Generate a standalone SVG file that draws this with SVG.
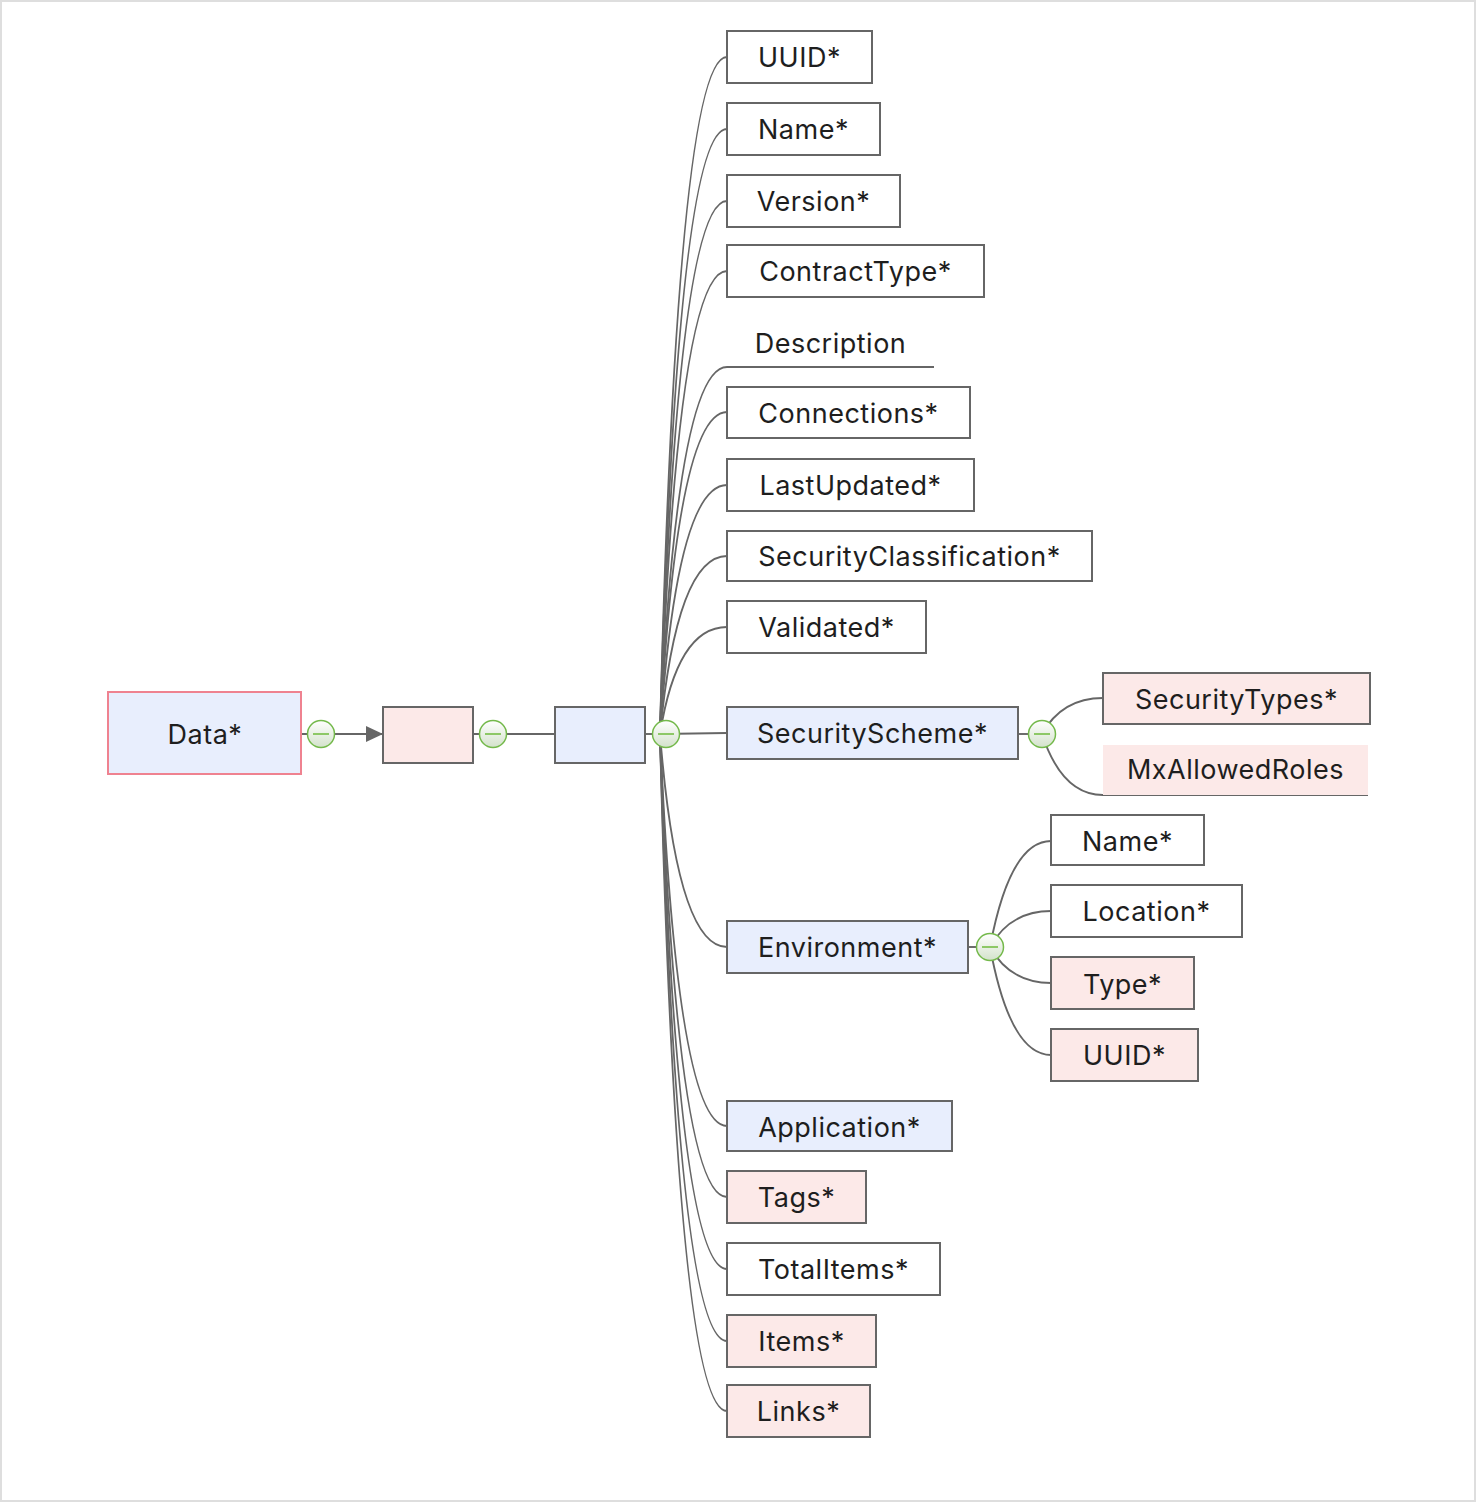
<svg xmlns="http://www.w3.org/2000/svg" width="1476" height="1502" viewBox="0 0 1476 1502">
  <defs>
    <linearGradient id="knobFill" x1="0" y1="0" x2="0" y2="1">
      <stop offset="0" stop-color="#ffffff"/>
      <stop offset="1" stop-color="#d3e2cb"/>
    </linearGradient>
    <marker id="arrow" viewBox="0 0 17 16" refX="17" refY="8" markerWidth="17" markerHeight="16" markerUnits="userSpaceOnUse" orient="auto">
      <path d="M0,0 L17,8 L0,16 Z" fill="#666666"/>
    </marker>
    <g id="knob">
      <circle r="13.5" fill="url(#knobFill)" stroke="#74b94b" stroke-width="1.5"/>
      <line x1="-8" y1="0" x2="8" y2="0" stroke="#8dc866" stroke-width="2"/>
    </g>
  </defs>
  <style>
    .frame { fill: #ffffff; stroke: #dedede; stroke-width: 2; }
    .box { stroke: #666666; stroke-width: 2; }
    .plain { fill: #ffffff; }
    .blue { fill: #e8eefd; }
    .pink { fill: #fce9e8; }
    .root { fill: #e8eefd; stroke: #ef8290; stroke-width: 2; }
    .label { font-family: Inter, "Liberation Sans", sans-serif; font-size: 27px; letter-spacing: 0.5px; fill: #1e1e1e; text-anchor: middle; }
    .wire { fill: none; stroke: #666666; stroke-width: 1.9; }
  </style>

  <rect class="frame" x="1" y="1" width="1474" height="1500"/>

  <!-- connectors -->
  <g id="connectors">
    <path class="wire" d="M301,734 L383,734" marker-end="url(#arrow)"/>
    <path class="wire" d="M473,734 L555,734"/>
    <path class="wire" d="M645,734 L660,734"/>
    <!-- fan from the main hub -->
    <path class="wire" d="M660,734 Q677,57 727,57"/>
    <path class="wire" d="M660,734 Q677,129 727,129"/>
    <path class="wire" d="M660,734 Q677,201 727,201"/>
    <path class="wire" d="M660,734 Q677,271 727,271"/>
    <path class="wire" d="M660,734 Q677,367 727,367 L934,367"/>
    <path class="wire" d="M660,734 Q677,412 727,412"/>
    <path class="wire" d="M660,734 Q677,485 727,485"/>
    <path class="wire" d="M660,734 Q677,556 727,556"/>
    <path class="wire" d="M660,734 Q677,627 727,627"/>
    <path class="wire" d="M660,734 L727,733"/>
    <path class="wire" d="M660,734 Q677,947 727,947"/>
    <path class="wire" d="M660,734 Q677,1126 727,1126"/>
    <path class="wire" d="M660,734 Q677,1197 727,1197"/>
    <path class="wire" d="M660,734 Q677,1269 727,1269"/>
    <path class="wire" d="M660,734 Q677,1341 727,1341"/>
    <path class="wire" d="M660,734 Q677,1411 727,1411"/>
    <!-- SecurityScheme branch -->
    <path class="wire" d="M1018,734 L1042,734"/>
    <path class="wire" d="M1042,734 Q1062,698 1103,698"/>
    <path class="wire" d="M1042,734 Q1062,795 1103,795 L1368,795"/>
    <!-- Environment branch -->
    <path class="wire" d="M968,947 L990,947"/>
    <path class="wire" d="M990,947 Q1010,841 1051,841"/>
    <path class="wire" d="M990,947 Q1010,911 1051,911"/>
    <path class="wire" d="M990,947 Q1010,983 1051,983"/>
    <path class="wire" d="M990,947 Q1010,1055 1051,1055"/>
  </g>

  <!-- collapse knobs -->
  <g id="knobs">
    <use href="#knob" x="321" y="734"/>
    <use href="#knob" x="493" y="734"/>
    <use href="#knob" x="666" y="734"/>
    <use href="#knob" x="1042" y="734"/>
    <use href="#knob" x="990" y="947"/>
  </g>

  <g id="node-data">
    <rect class="root" x="108" y="692" width="193" height="82"/>
    <text class="label" x="205" y="744">Data*</text>
  </g>
  <g id="node-anon-pink">
    <rect class="box pink" x="383" y="707" width="90" height="56"/>
  </g>
  <g id="node-anon-blue">
    <rect class="box blue" x="555" y="707" width="90" height="56"/>
  </g>

  <g id="node-uuid">
    <rect class="box plain" x="727" y="31" width="145" height="52"/>
    <text class="label" x="799.5" y="67">UUID*</text>
  </g>
  <g id="node-name">
    <rect class="box plain" x="727" y="103" width="153" height="52"/>
    <text class="label" x="803.5" y="139">Name*</text>
  </g>
  <g id="node-version">
    <rect class="box plain" x="727" y="175" width="173" height="52"/>
    <text class="label" x="813.5" y="211">Version*</text>
  </g>
  <g id="node-contracttype">
    <rect class="box plain" x="727" y="245" width="257" height="52"/>
    <text class="label" x="855.5" y="281">ContractType*</text>
  </g>
  <g id="node-description">
    <text class="label" x="830.5" y="353">Description</text>
  </g>
  <g id="node-connections">
    <rect class="box plain" x="727" y="387" width="243" height="51"/>
    <text class="label" x="848.5" y="423">Connections*</text>
  </g>
  <g id="node-lastupdated">
    <rect class="box plain" x="727" y="459" width="247" height="52"/>
    <text class="label" x="850.5" y="495">LastUpdated*</text>
  </g>
  <g id="node-securityclassification">
    <rect class="box plain" x="727" y="531" width="365" height="50"/>
    <text class="label" x="909.5" y="566">SecurityClassification*</text>
  </g>
  <g id="node-validated">
    <rect class="box plain" x="727" y="601" width="199" height="52"/>
    <text class="label" x="826.5" y="637">Validated*</text>
  </g>
  <g id="node-securityscheme">
    <rect class="box blue" x="727" y="707" width="291" height="52"/>
    <text class="label" x="872.5" y="743">SecurityScheme*</text>
  </g>
  <g id="node-securitytypes">
    <rect class="box pink" x="1103" y="673" width="267" height="51"/>
    <text class="label" x="1236.5" y="709">SecurityTypes*</text>
  </g>
  <g id="node-mxallowedroles">
    <rect class="pink" x="1103" y="745" width="265" height="50"/>
    <text class="label" x="1235.5" y="779">MxAllowedRoles</text>
  </g>
  <g id="node-environment">
    <rect class="box blue" x="727" y="921" width="241" height="52"/>
    <text class="label" x="847.5" y="957">Environment*</text>
  </g>
  <g id="node-env-name">
    <rect class="box plain" x="1051" y="815" width="153" height="50"/>
    <text class="label" x="1127.5" y="851">Name*</text>
  </g>
  <g id="node-env-location">
    <rect class="box plain" x="1051" y="885" width="191" height="52"/>
    <text class="label" x="1146.5" y="921">Location*</text>
  </g>
  <g id="node-env-type">
    <rect class="box pink" x="1051" y="957" width="143" height="52"/>
    <text class="label" x="1122.5" y="994">Type*</text>
  </g>
  <g id="node-env-uuid">
    <rect class="box pink" x="1051" y="1029" width="147" height="52"/>
    <text class="label" x="1124.5" y="1065">UUID*</text>
  </g>
  <g id="node-application">
    <rect class="box blue" x="727" y="1101" width="225" height="50"/>
    <text class="label" x="839.5" y="1137">Application*</text>
  </g>
  <g id="node-tags">
    <rect class="box pink" x="727" y="1171" width="139" height="52"/>
    <text class="label" x="796.5" y="1207">Tags*</text>
  </g>
  <g id="node-totalitems">
    <rect class="box plain" x="727" y="1243" width="213" height="52"/>
    <text class="label" x="833.5" y="1279">TotalItems*</text>
  </g>
  <g id="node-items">
    <rect class="box pink" x="727" y="1315" width="149" height="52"/>
    <text class="label" x="801.5" y="1351">Items*</text>
  </g>
  <g id="node-links">
    <rect class="box pink" x="727" y="1385" width="143" height="52"/>
    <text class="label" x="798.5" y="1421">Links*</text>
  </g>
</svg>
